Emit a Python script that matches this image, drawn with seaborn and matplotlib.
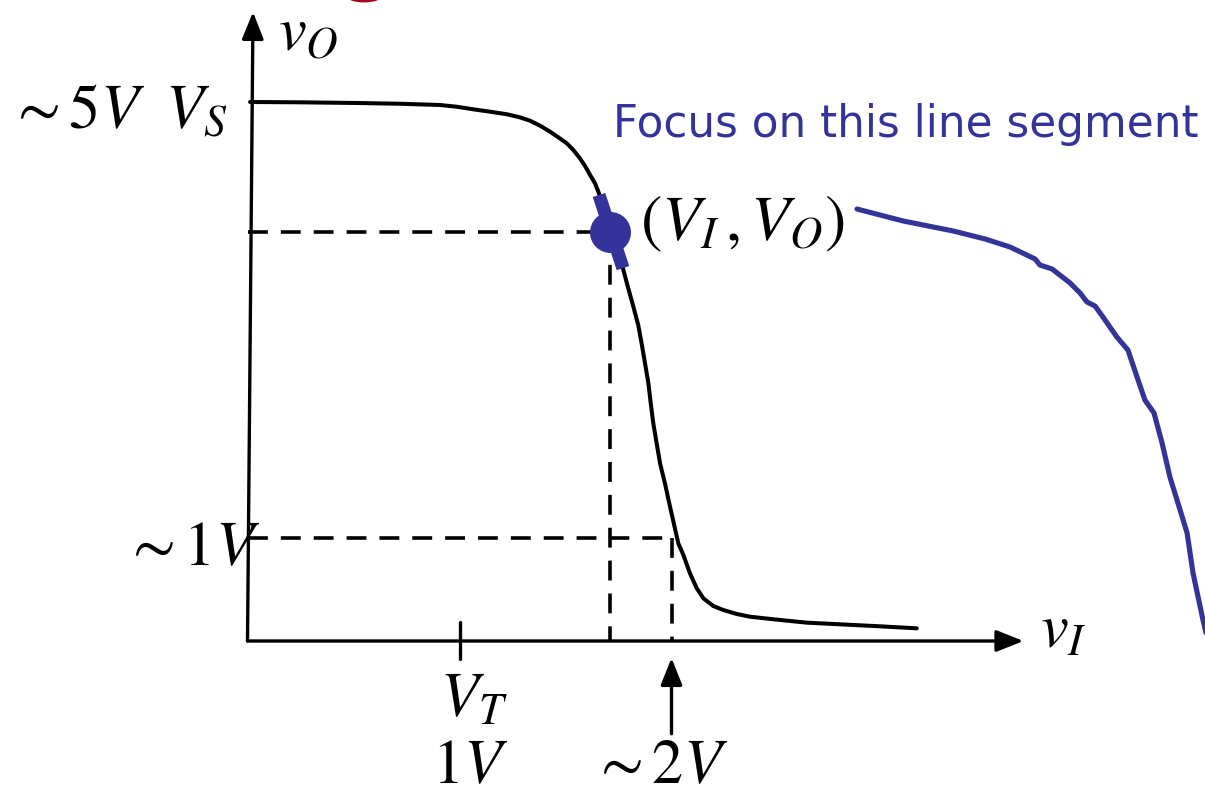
import numpy as np
import pandas as pd
import matplotlib
matplotlib.use("Agg")
import matplotlib.pyplot as plt
from matplotlib.patches import Ellipse
import seaborn as sns

# Inverter voltage transfer characteristic, v_O versus v_I (volts)
vtc_vi = [0.012, 0.248, 0.531, 0.719, 0.908, 0.987, 1.065, 1.144, 1.223, 1.285,
          1.333, 1.380, 1.427, 1.466, 1.506, 1.537, 1.568, 1.592, 1.616, 1.639,
          1.655, 1.686, 1.719, 1.757, 1.773, 1.796, 1.820, 1.843, 1.859, 1.875,
          1.891, 1.902, 1.914, 1.930, 1.946, 1.969, 1.993, 2.032, 2.056, 2.087,
          2.119, 2.150, 2.197, 2.244, 2.308, 2.370, 2.480, 2.638, 2.795, 2.952,
          3.157]
vtc_vo = [5.233, 5.230, 5.223, 5.216, 5.204, 5.187, 5.162, 5.139, 5.114, 5.084,
          5.051, 5.003, 4.945, 4.890, 4.832, 4.767, 4.686, 4.612, 4.524, 4.444,
          4.362, 4.165, 3.971, 3.699, 3.602, 3.424, 3.246, 3.068, 2.890, 2.696,
          2.502, 2.308, 2.114, 1.919, 1.725, 1.531, 1.304, 0.949, 0.835, 0.657,
          0.512, 0.415, 0.340, 0.301, 0.262, 0.236, 0.211, 0.178, 0.162, 0.146,
          0.123]

# Magnified view of the highlighted segment
zoom_vi = [2.875, 3.092, 3.328, 3.479, 3.597, 3.715, 3.738, 3.795, 3.880, 3.927,
           3.960, 3.998, 4.035, 4.101, 4.153, 4.196, 4.233, 4.276, 4.314, 4.351,
           4.399, 4.432, 4.460, 4.507, 4.540]
zoom_vo = [4.194, 4.078, 3.981, 3.903, 3.825, 3.709, 3.650, 3.612, 3.476, 3.379,
           3.291, 3.252, 3.146, 2.951, 2.825, 2.563, 2.340, 2.214, 1.922, 1.592,
           1.272, 1.049, 0.660, 0.204, -0.087]

# Operating point and the short segment around it
op_vi, op_vo = 1.71, 3.97
seg_vi = [1.658, 1.771]
seg_vo = [4.33, 3.62]

# Reference levels
v_t = 1.0
v_i_low_out = 2.0
v_o_low = 1.0

BLUE = "#333399"
TEXT_SIZE = 45

sns.set_theme(style="white")
plt.rcParams["font.family"] = ["DejaVu Sans"]
plt.rcParams["mathtext.fontset"] = "stix"
plt.rcParams["text.color"] = "black"

fig = plt.figure(figsize=(12.05, 7.98), dpi=100)
ax = fig.add_axes([0, 0, 1, 1])
ax.set_xlim(-1.1675, 4.5165)
ax.set_ylim(-1.5243, 6.2233)
ax.axis("off")

# Axes with arrow heads
arrow_kw = dict(arrowstyle="-|>,head_length=0.55,head_width=0.22",
                mutation_scale=30, lw=2.4, color="black",
                shrinkA=0, shrinkB=0)
ax.annotate("", xy=(3.66, 0), xytext=(0, 0), arrowprops=arrow_kw)
ax.annotate("", xy=(0.026, 6.107), xytext=(0, 0), arrowprops=arrow_kw)

# Tick at the threshold voltage
ax.plot([v_t, v_t], [0.18, -0.17], color="black", lw=2.4)

# Arrow pointing at ~2V
ax.annotate("", xy=(v_i_low_out, -0.165), xytext=(v_i_low_out, -0.90),
            arrowprops=arrow_kw)

# Dashed guide lines
dash_kw = dict(color="black", lw=2.6, dashes=(5.5, 3.6))
ax.plot([0, op_vi], [op_vo, op_vo], **dash_kw)
ax.plot([op_vi, op_vi], [op_vo, 0], **dash_kw)
ax.plot([0, v_i_low_out], [v_o_low, v_o_low], **dash_kw)
ax.plot([v_i_low_out, v_i_low_out], [v_o_low, 0], **dash_kw)

# Transfer curve
sns.lineplot(x=vtc_vi, y=vtc_vo, sort=False, color="black", lw=2.9, ax=ax,
             estimator=None, solid_joinstyle="round")

# Highlighted segment and operating point
ax.plot(seg_vi, seg_vo, color=BLUE, lw=9.5, solid_capstyle="butt")
ax.plot([op_vi], [op_vo], "o", color=BLUE, ms=29.5, mew=0)

# Magnified segment
sns.lineplot(x=zoom_vi, y=zoom_vo, sort=False, color=BLUE, lw=3.7, ax=ax,
             estimator=None, solid_joinstyle="round")

# Partially visible title fragment at the top
ax.add_patch(Ellipse((0.55, 6.25), 0.155, 0.10, color="#a6001e", lw=0))

# Labels
ax.text(0.144, 5.74, r"$v_O$", fontsize=TEXT_SIZE, ha="left", va="baseline")
ax.text(-1.13, 4.98, r"$\sim 5V$", fontsize=TEXT_SIZE, ha="left", va="baseline")
ax.text(-0.389, 4.98, r"$V_S$", fontsize=TEXT_SIZE, ha="left", va="baseline")
ax.text(-0.585, 0.738, r"$\sim 1V$", fontsize=TEXT_SIZE, ha="left", va="baseline")
ax.text(0.908, -0.738, r"$V_T$", fontsize=TEXT_SIZE, ha="left", va="baseline")
ax.text(0.870, -1.38, r"$1V$", fontsize=TEXT_SIZE, ha="left", va="baseline")
ax.text(1.62, -1.38, r"$\sim 2V$", fontsize=TEXT_SIZE, ha="left", va="baseline")
ax.text(3.738, -0.068, r"$v_I$", fontsize=TEXT_SIZE, ha="left", va="baseline")
ax.text(1.851, 3.893, r"$\left(V_I\,,V_O\right)$", fontsize=TEXT_SIZE + 1,
        ha="left", va="baseline")
ax.text(1.724, 4.893, "Focus on this line segment", fontsize=31.5, color=BLUE,
        ha="left", va="baseline")

fig.savefig("out.png", dpi=100)
